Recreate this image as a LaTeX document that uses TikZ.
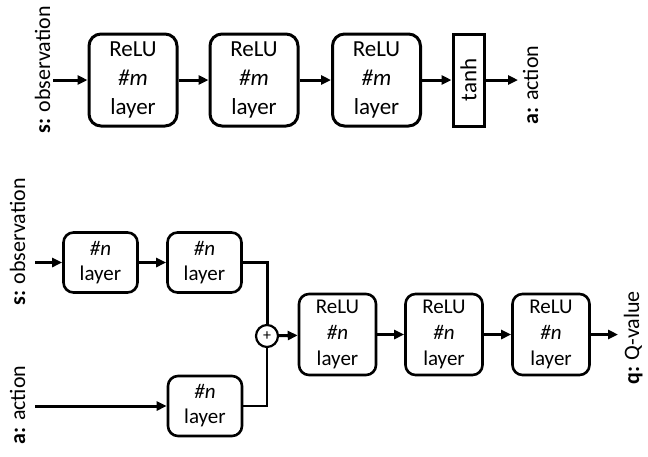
\documentclass[tikz,border=0pt]{standalone}
\usepackage{fontspec}
\setmainfont{Carlito}
\usetikzlibrary{arrows.meta}
\begin{document}
\begin{tikzpicture}[x=1pt,y=-1pt,
  bigbox/.style={draw, line width=3pt, rounded corners=12pt, align=center,
    inner sep=0pt, minimum width=88pt, minimum height=92pt,
    font=\fontsize{23}{29}\selectfont},
  smallbox/.style={draw, line width=2.6pt, rounded corners=10pt, align=center,
    inner sep=0pt, minimum width=74pt, minimum height=60pt,
    font=\fontsize{21}{25}\selectfont},
  relubox/.style={smallbox, minimum width=77pt, minimum height=81pt,
    font=\fontsize{21}{26}\selectfont},
  tanhbox/.style={draw, line width=3pt, inner sep=0pt, minimum width=31pt,
    minimum height=92pt},
  sumnode/.style={draw, circle, line width=2.2pt, inner sep=0pt, minimum size=22pt,
    font=\fontsize{16}{16}\selectfont},
  sidelabel/.style={rotate=90, anchor=base, inner sep=0pt,
    font=\fontsize{22}{26}\selectfont},
  conn/.style={line width=3pt, -{Triangle[length=10pt,width=9pt]}},
  thinconn/.style={line width=2.2pt},
]
\useasboundingbox (0,0) rectangle (648,456);

% actor network
\node[bigbox] (t1) at (133,80) {ReLU\\\textit{\#m}\\layer};
\node[bigbox] (t2) at (254,80) {ReLU\\\textit{\#m}\\layer};
\node[bigbox] (t3) at (376.5,80) {ReLU\\\textit{\#m}\\layer};
\node[tanhbox] (th) at (468.5,80) {\rotatebox{90}{\fontsize{23}{26}\selectfont tanh}};
\coordinate (tin) at (53,80);
\coordinate (tout) at (518,80);
\node[sidelabel] (sl1) at (50,70) {\textbf{s:} observation};
\node[sidelabel] (al1) at (538,85) {\textbf{a:} action};

\draw[conn] (tin) -- (t1);
\draw[conn] (t1) -- (t2);
\draw[conn] (t2) -- (t3);
\draw[conn] (t3) -- (th);
\draw[conn] (th) -- (tout);

% critic network
\node[smallbox] (b1) at (100.5,262.5) {\textit{\#n}\\layer};
\node[smallbox] (b2) at (204.5,262.5) {\textit{\#n}\\layer};
\node[smallbox] (b3) at (205,406) {\textit{\#n}\\layer};
\node[sumnode] (sum) at (267,336) {+};
\node[relubox] (d1) at (337.5,334.5) {ReLU\\\textit{\#n}\\layer};
\node[relubox] (d2) at (444,334.5) {ReLU\\\textit{\#n}\\layer};
\node[relubox] (d3) at (551,334.5) {ReLU\\\textit{\#n}\\layer};
\coordinate (sin) at (35,262.5);
\coordinate (ain) at (35,406);
\coordinate (qout) at (618,334.5);
\node[sidelabel] (sl2) at (25,242) {\textbf{s:} observation};
\node[sidelabel] (al2) at (25,405) {\textbf{a:} action};
\node[sidelabel] (ql) at (639,338) {\textbf{q:} Q-value};

\draw[conn] (sin) -- (b1);
\draw[conn] (b1) -- (b2);
\draw[conn] (ain) -- (b3);
\draw[line width=3pt] (b2.east) -| (sum.north);
\draw[thinconn] (b3.east) -| (sum.south);
\draw[conn] (sum) -- (d1);
\draw[conn] (d1) -- (d2);
\draw[conn] (d2) -- (d3);
\draw[conn] (d3) -- (qout);
\end{tikzpicture}
\end{document}
